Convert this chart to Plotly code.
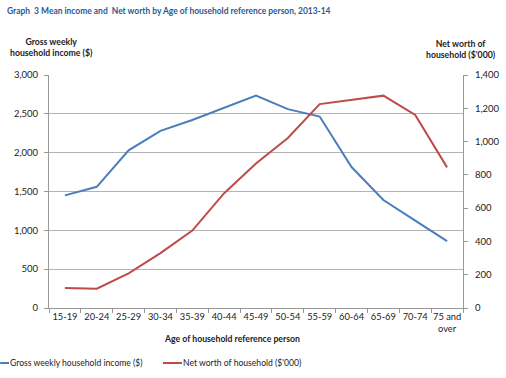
import plotly.graph_objects as go

ages = ["15-19", "20-24", "25-29", "30-34", "35-39", "40-44", "45-49",
        "50-54", "55-59", "60-64", "65-69", "70-74", "75 and<br>over"]
income = [1450, 1560, 2030, 2280, 2420, 2580, 2735, 2560, 2465, 1815, 1390, 1125, 860]
net_worth = [120, 116, 208, 330, 465, 690, 868, 1022, 1225, 1250, 1276, 1160, 845]

font = "Lato, Open Sans, sans-serif"
grid = "#b4b4b4"
blue = "#4a7ebb"
red = "#be4b48"

fig = go.Figure()
fig.add_trace(go.Scatter(x=ages, y=income, mode="lines", name="Gross weekly household income ($)",
                         line=dict(color=blue, width=2)))
fig.add_trace(go.Scatter(x=ages, y=net_worth, mode="lines", name="Net worth of household ($'000)",
                         line=dict(color=red, width=2), yaxis="y2"))

fig.update_layout(
    width=506, height=378,
    margin=dict(l=49, r=43, t=75, b=70),
    paper_bgcolor="white", plot_bgcolor="white",
    font=dict(family=font, size=10, color="#222222"),
    showlegend=False,
    xaxis=dict(type="category", range=[-0.5, 12.5], automargin=False, showline=True,
               linecolor="#999999", ticks="outside", tickson="boundaries", ticklen=4,
               tickcolor="#999999", showgrid=False, tickfont=dict(size=9.3), tickangle=0),
    yaxis=dict(range=[0, 3000], dtick=500, tickformat=",", showgrid=True, gridcolor=grid,
               gridwidth=1.3, showline=True, linecolor="#999999", ticks="outside", ticklen=4,
               tickcolor="#999999", zeroline=False, tickfont=dict(size=9.5), automargin=False,
               ticklabelstandoff=4),
    yaxis2=dict(range=[0, 1400], dtick=200, tickformat=",", overlaying="y", side="right",
                showgrid=False, showline=True, linecolor="#999999", ticks="outside",
                ticklen=4, tickcolor="#999999", zeroline=False, tickfont=dict(size=9.5),
                automargin=False, ticklabelstandoff=5),
)

fig.add_annotation(text="<b>Graph  3 Mean income and  Net worth by Age of household reference person, 2013-14</b>",
                   xref="paper", yref="paper", x=-0.106, y=1.275, xanchor="left", yanchor="middle",
                   showarrow=False, font=dict(size=8.45, color="#2a5a94"))
fig.add_annotation(text="<b>Gross weekly<br>household income ($)</b>", xref="paper", yref="paper",
                   x=0.006, y=1.122, xanchor="center", yanchor="middle", showarrow=False,
                   font=dict(size=8.7))
fig.add_annotation(text="<b>Net worth of<br>household ($'000)</b>", xref="paper", yref="paper",
                   x=0.994, y=1.112, xanchor="center", yanchor="middle", showarrow=False,
                   font=dict(size=8.7))
fig.add_annotation(text="<b>Age of household reference person</b>", xref="paper", yref="paper",
                   x=0.442, y=-0.133, xanchor="center", yanchor="middle", showarrow=False,
                   font=dict(size=8.7))

# legend drawn by hand so it can sit at the very left edge like the original
legend_y = -0.236
for x0, x1, color, label in [(-0.118, -0.0966, blue, "Gross weekly household income ($)"),
                             (0.2754, 0.3213, red, "Net worth of household ($'000)")]:
    fig.add_shape(type="line", xref="paper", yref="paper", x0=x0, x1=x1, y0=legend_y, y1=legend_y,
                  line=dict(color=color, width=2))
    fig.add_annotation(text=label, xref="paper", yref="paper", x=x1, y=legend_y,
                       xanchor="left", yanchor="middle", showarrow=False, font=dict(size=8.6),
                       xshift=-1)

# drop the browser's default body margin so the chart sits at the page corner
fig.write_html("out.html", config={"displayModeBar": False},
               post_script="document.body.style.margin='0px';")
